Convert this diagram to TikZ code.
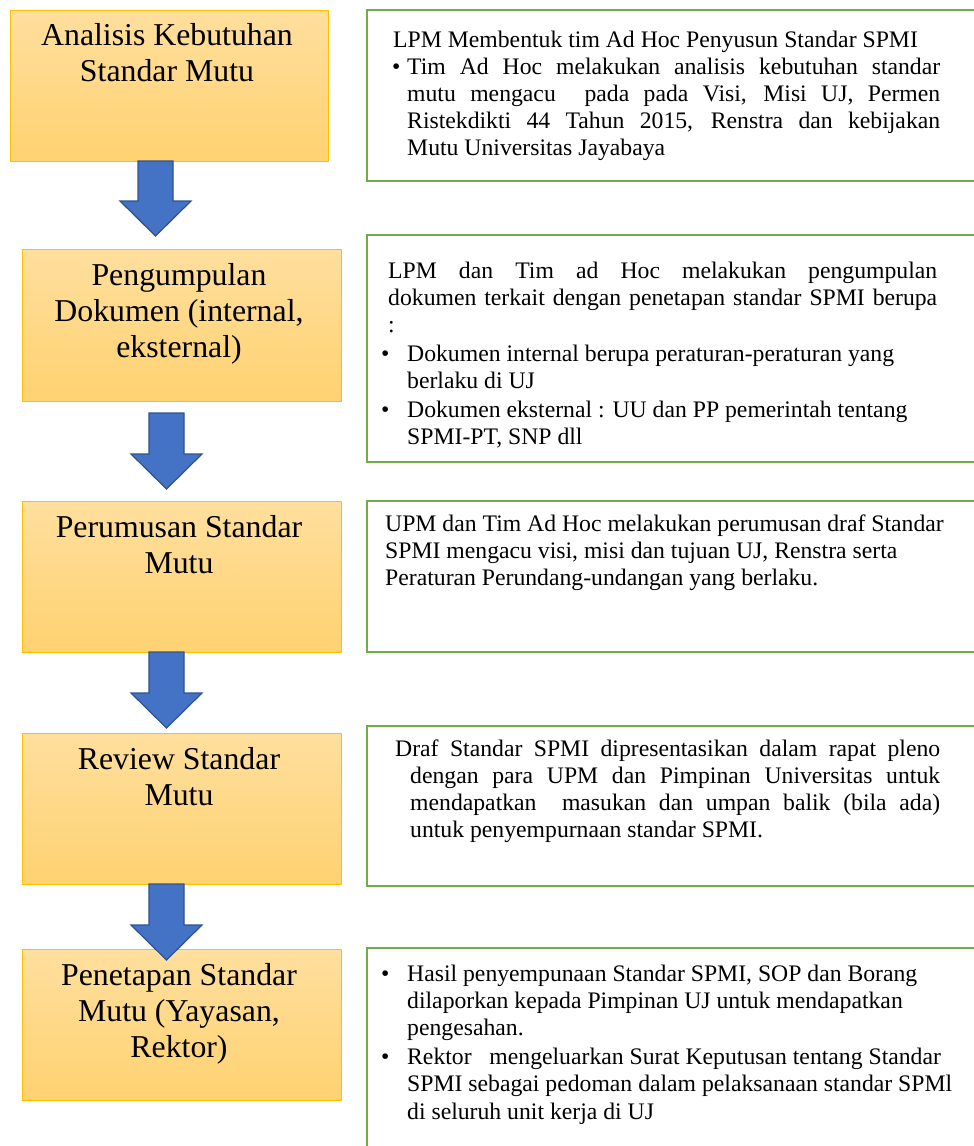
\documentclass[tikz,border=0pt]{standalone}
\usepackage{fontspec}
\setmainfont{Liberation Serif}
\usetikzlibrary{calc}

\definecolor{boxgold}{HTML}{FFC000}
\definecolor{boxtop}{HTML}{FFDF9E}
\definecolor{boxbottom}{HTML}{FFD271}
\definecolor{leafgreen}{HTML}{70AD47}
\definecolor{arrowblue}{HTML}{4472C4}
\definecolor{arrowedge}{HTML}{2F528F}

\tikzset{
  stepbox/.style={draw=boxgold, line width=1pt, top color=boxtop, bottom color=boxbottom,
    minimum width=319pt, minimum height=151pt, inner sep=0pt},
  notebox/.style={draw=leafgreen, line width=2pt, fill=white, minimum width=623pt, inner sep=0pt},
  steptext/.style={anchor=base, inner sep=0pt, font=\fontsize{31.8}{36}\selectfont},
  notetext/.style={anchor=base west, inner sep=0pt, font=\fontsize{23.7}{27.2}\selectfont},
  flowarrow/.style={fill=arrowblue, draw=arrowedge, line width=1.2pt, line join=miter,
    to path={let \p1=(\tikztostart), \p2=(\tikztotarget) in
      (\x1-17.5pt,\y1) -- (\x1+17.5pt,\y1) -- (\x1+17.5pt,\y2+35pt) -- (\x1+35.5pt,\y2+35pt)
      -- (\x2,\y2) -- (\x1-35.5pt,\y2+35pt) -- (\x1-17.5pt,\y2+35pt) -- cycle}}
}

\newcommand{\jline}[2]{\makebox[#1][s]{#2}}
\newcommand{\bul}{\makebox[26pt][l]{•}}

\begin{document}
\begin{tikzpicture}[x=1pt, y=-1pt]
  \fill[white] (0,0) rectangle (974,1146);
  \useasboundingbox (0,0) rectangle (974,1146);

  % ---------- right-hand description boxes (open to the right edge) ----------
  \node[notebox, minimum height=171pt] (n1) at (678.5,95.5) {};
  \node[notebox, minimum height=227pt] (n2) at (678.5,348.5) {};
  \node[notebox, minimum height=151pt] (n3) at (678.5,576.5) {};
  \node[notebox, minimum height=160pt] (n4) at (678.5,806) {};
  \node[notebox, minimum height=212pt] (n5) at (678.5,1054) {};

  % ---------- left-hand step boxes ----------
  \node[stepbox, minimum width=318pt] (b1) at (169,85.5) {};
  \node[stepbox, minimum height=152pt] (b2) at (181.5,325) {};
  \node[stepbox] (b3) at (181.5,576.5) {};
  \node[stepbox] (b4) at (181.5,808.5) {};
  \node[stepbox] (b5) at (181.5,1024.5) {};

  % step titles
  \node[steptext] (t1) at (167,45) {\parbox[t]{310pt}{\centering Analisis Kebutuhan\\Standar Mutu}};
  \node[steptext] (t2) at (179,285) {\parbox[t]{310pt}{\centering Pengumpulan\\Dokumen (internal,\\eksternal)}};
  \node[steptext] (t3) at (179,537) {\parbox[t]{310pt}{\centering Perumusan Standar\\Mutu}};
  \node[steptext] (t4) at (179,769) {\parbox[t]{310pt}{\centering Review Standar\\Mutu}};
  \node[steptext] (t5) at (179,985) {\parbox[t]{310pt}{\centering Penetapan Standar\\Mutu (Yayasan,\\Rektor)}};

  % ---------- block arrows between the steps ----------
  \coordinate (a1s) at (155.5,161);  \coordinate (a1e) at (155.5,236);
  \coordinate (a2s) at (166.5,413);  \coordinate (a2e) at (166.5,489);
  \coordinate (a3s) at (166.5,652);  \coordinate (a3e) at (166.5,728);
  \coordinate (a4s) at (166.5,884);  \coordinate (a4e) at (166.5,960);
  \draw[flowarrow] (a1s) to (a1e);
  \draw[flowarrow] (a2s) to (a2e);
  \draw[flowarrow] (a3s) to (a3e);
  \draw[flowarrow] (a4s) to (a4e);

  % ---------- description texts ----------
  \node[notetext] (d1) at (392,47) {\parbox[t]{600pt}{%
    \hspace*{1pt}LPM Membentuk tim Ad Hoc Penyusun Standar SPMI\\
    \makebox[15pt][l]{•}\jline{533pt}{Tim Ad Hoc melakukan analisis kebutuhan standar}\\
    \hspace*{15pt}\jline{533pt}{mutu mengacu \ pada pada Visi, Misi UJ, Permen}\\
    \hspace*{15pt}\jline{533pt}{Ristekdikti 44 Tahun 2015, Renstra dan kebijakan}\\
    \hspace*{15pt}Mutu Universitas Jayabaya}};

  \node[notetext] (d2) at (381,278) {\parbox[t]{600pt}{%
    \hspace*{7pt}\jline{549pt}{LPM dan Tim ad Hoc melakukan pengumpulan}\\
    \hspace*{7pt}\jline{549pt}{dokumen terkait dengan penetapan standar SPMI berupa}\\
    \hspace*{7pt}:\\[1.5pt]
    \bul Dokumen internal berupa peraturan-peraturan yang\\
    \hspace*{26pt}berlaku di UJ\\[2pt]
    \bul Dokumen eksternal : UU dan PP pemerintah tentang\\
    \hspace*{26pt}SPMI-PT, SNP dll}};

  \node[notetext] (d3) at (385,531) {\parbox[t]{600pt}{%
    UPM dan Tim Ad Hoc melakukan perumusan draf Standar\\
    SPMI mengacu visi, misi dan tujuan UJ, Renstra serta\\
    Peraturan Perundang-undangan yang berlaku.}};

  \node[notetext] (d4) at (395,756) {\parbox[t]{600pt}{%
    \jline{545pt}{Draf Standar SPMI dipresentasikan dalam rapat pleno}\\
    \hspace*{15pt}\jline{530pt}{dengan para UPM dan Pimpinan Universitas untuk}\\
    \hspace*{15pt}\jline{530pt}{mendapatkan \ masukan dan umpan balik (bila ada)}\\
    \hspace*{15pt}untuk penyempurnaan standar SPMI.}};

  \node[notetext] (d5) at (381,981) {\parbox[t]{600pt}{%
    \bul Hasil penyempunaan Standar SPMI, SOP dan Borang\\
    \hspace*{26pt}dilaporkan kepada Pimpinan UJ untuk mendapatkan\\
    \hspace*{26pt}pengesahan.\\[2pt]
    \bul Rektor \ \ mengeluarkan Surat Keputusan tentang Standar\\
    \hspace*{26pt}SPMI sebagai pedoman dalam pelaksanaan standar SPMl\\
    \hspace*{26pt}di seluruh unit kerja di UJ}};
\end{tikzpicture}
\end{document}
